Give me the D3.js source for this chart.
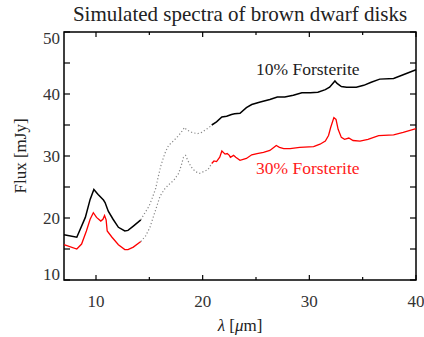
<!DOCTYPE html>
<html>
<head>
<meta charset="utf-8">
<script src="https://cdn.jsdelivr.net/npm/d3@7"></script>
<style>
  body { margin: 0; background: #fff; }
</style>
</head>
<body>
<div id="chart"></div>
<script>
// 10% forsterite (black) and 30% forsterite (red), [lambda um, flux mJy]
const black10Short = [[7.0,17.3],[8.2,16.9],[9.0,20.1],[9.45,23.0],[9.8,24.6],[10.2,23.8],[10.7,22.9],[10.85,22.5],[11.15,21.1],[11.6,19.8],[12.1,18.5],[12.7,17.9],[13.0,18.0],[13.5,18.7],[14.2,19.7]];
const red30Short = [[7.0,15.7],[8.2,15.0],[8.65,15.8],[9.1,17.9],[9.45,19.8],[9.75,20.85],[10.05,20.1],[10.45,19.5],[10.65,19.8],[10.8,20.4],[10.95,19.7],[11.05,17.9],[11.5,16.9],[12.1,15.7],[12.7,14.9],[13.0,14.9],[13.5,15.3],[14.2,16.2]];
const black10Gap = [[14.2,19.7],[14.5,20.6],[14.97,21.9],[15.27,23.2],[15.6,24.8],[15.8,26.4],[16.06,28.3],[16.3,29.6],[16.5,30.6],[16.8,31.7],[17.3,32.5],[17.75,33.3],[18.06,34.0],[18.3,34.6],[18.5,34.2],[19.0,33.8],[19.5,33.6],[19.9,33.8],[20.6,34.6],[20.85,35.0]];
const red30Gap = [[14.2,16.2],[14.65,17.1],[15.06,18.5],[15.4,20.3],[15.7,21.9],[16.0,23.5],[16.4,24.6],[16.8,25.35],[17.3,26.1],[17.75,27.2],[18.0,28.5],[18.2,29.8],[18.4,30.1],[18.6,29.3],[18.9,28.3],[19.3,27.5],[19.7,27.2],[20.1,27.5],[20.5,27.8],[20.85,28.8]];
const black10Long = [[20.85,35.0],[21.3,35.5],[21.8,36.3],[22.25,36.4],[22.7,36.7],[23.0,36.8],[23.5,36.9],[24.1,37.8],[24.6,38.3],[25.4,38.7],[26.3,39.1],[27.0,39.5],[27.7,39.5],[28.5,39.8],[29.3,40.2],[30.1,40.2],[30.8,40.3],[31.5,40.7],[31.9,41.1],[32.2,41.7],[32.4,42.1],[32.6,41.7],[33.0,41.2],[33.5,41.1],[34.4,41.1],[35.1,41.4],[35.8,41.9],[36.6,42.4],[37.9,42.5],[38.8,43.1],[40.0,43.9]];
const red30Long = [[20.85,28.8],[21.06,29.2],[21.3,29.1],[21.6,29.8],[21.8,30.8],[22.1,30.3],[22.3,30.4],[22.5,30.1],[22.6,29.8],[22.9,30.1],[23.1,29.8],[23.5,29.3],[24.1,29.6],[24.6,30.2],[25.1,30.4],[25.7,30.6],[26.3,30.9],[26.6,31.3],[26.9,31.7],[27.2,31.4],[27.6,31.2],[28.2,31.2],[29.1,31.4],[30.4,31.5],[31.0,31.9],[31.5,32.4],[31.8,33.3],[32.0,34.6],[32.3,36.2],[32.5,35.9],[32.7,34.3],[33.0,33.0],[33.3,32.7],[33.7,32.9],[34.1,32.5],[34.75,32.4],[35.5,32.7],[36.5,33.3],[37.9,33.4],[38.8,33.8],[40.0,34.4]];

const xTicks = [10, 20, 30, 40];
const xMinor = [15, 25, 35];
const yTicks = [10, 20, 30, 40, 50];
const yMinor = [15, 25, 35, 45];

const serif = "'Liberation Serif', 'Times New Roman', Tinos, 'DejaVu Serif', serif";

const margin = {top: 32, right: 8, bottom: 57, left: 64};
const width = 424 - margin.left - margin.right;
const height = 337 - margin.top - margin.bottom;

const svg = d3.select('#chart').append('svg')
    .attr('width', 424)
    .attr('height', 337)
    .attr('font-family', serif)
    .style('font-family', serif);

const g = svg.append('g')
    .attr('transform', `translate(${margin.left},${margin.top})`);

const x = d3.scaleLinear().domain([7, 40]).range([0, width]);
const y = d3.scaleLinear().domain([10, 50]).range([height, 0]);

const line = d3.line().x(d => x(d[0])).y(d => y(d[1]));

// ticks on all four sides
const tickG = g.append('g').attr('stroke', '#000').attr('stroke-width', 1.2);
const xt = xTicks.map(v => ({v, len: 5})).concat(xMinor.map(v => ({v, len: 3})));
xt.forEach(t => {
  tickG.append('line').attr('x1', x(t.v)).attr('x2', x(t.v)).attr('y1', height).attr('y2', height - t.len);
  tickG.append('line').attr('x1', x(t.v)).attr('x2', x(t.v)).attr('y1', 0).attr('y2', t.len);
});
yTicks.concat(yMinor).forEach(v => {
  tickG.append('line').attr('x1', 0).attr('x2', 6).attr('y1', y(v)).attr('y2', y(v));
  tickG.append('line').attr('x1', width).attr('x2', width - 6).attr('y1', y(v)).attr('y2', y(v));
});

// tick labels
g.append('g').selectAll('text')
  .data(xTicks)
  .join('text')
    .attr('x', d => x(d))
    .attr('y', height + 27)
    .attr('text-anchor', 'middle')
    .attr('font-size', 17)
    .attr('fill', '#333')
    .text(d => d);

g.append('g').selectAll('text')
  .data(yTicks)
  .join('text')
    .attr('x', -4)
    .attr('y', d => y(d))
    .attr('dy', d => d === 50 ? '0.68em' : d === 10 ? '0' : '0.38em')
    .attr('text-anchor', 'end')
    .attr('font-size', 17)
    .attr('fill', '#333')
    .text(d => d);

// frame
g.append('rect')
    .attr('width', width)
    .attr('height', height)
    .attr('fill', 'none')
    .attr('stroke', '#000')
    .attr('stroke-width', 1.5);

// spectra
[black10Short, black10Long].forEach(d => {
  g.append('path').datum(d).attr('d', line)
    .attr('fill', 'none').attr('stroke', '#000').attr('stroke-width', 1.5);
});
[red30Short, red30Long].forEach(d => {
  g.append('path').datum(d).attr('d', line)
    .attr('fill', 'none').attr('stroke', '#ff0000').attr('stroke-width', 1.3);
});
[black10Gap, red30Gap].forEach(d => {
  g.append('path').datum(d).attr('d', line)
    .attr('fill', 'none').attr('stroke', '#888').attr('stroke-width', 1.2)
    .attr('stroke-dasharray', '1.2,2.2');
});

// series labels
g.append('text')
    .attr('x', x(25)).attr('y', 75 - margin.top)
    .attr('font-size', 17.5).attr('fill', '#222')
    .text('10% Forsterite');
g.append('text')
    .attr('x', x(25)).attr('y', 174 - margin.top)
    .attr('font-size', 17.5).attr('fill', '#ff2020')
    .text('30% Forsterite');

// title and axis titles
svg.append('text')
    .attr('x', margin.left + width / 2).attr('y', 21)
    .attr('text-anchor', 'middle')
    .attr('font-size', 21).attr('fill', '#222')
    .text('Simulated spectra of brown dwarf disks');

const xl = svg.append('text')
    .attr('x', margin.left + width / 2).attr('y', 331)
    .attr('text-anchor', 'middle')
    .attr('font-size', 17).attr('fill', '#222');
xl.append('tspan').attr('font-style', 'italic').text('λ');
xl.append('tspan').text('  [');
xl.append('tspan').attr('font-style', 'italic').text('μ');
xl.append('tspan').text('m]');

svg.append('text')
    .attr('transform', `translate(26,${margin.top + height / 2}) rotate(-90)`)
    .attr('text-anchor', 'middle')
    .attr('font-size', 17).attr('fill', '#222')
    .text('Flux [mJy]');
</script>
</body>
</html>
